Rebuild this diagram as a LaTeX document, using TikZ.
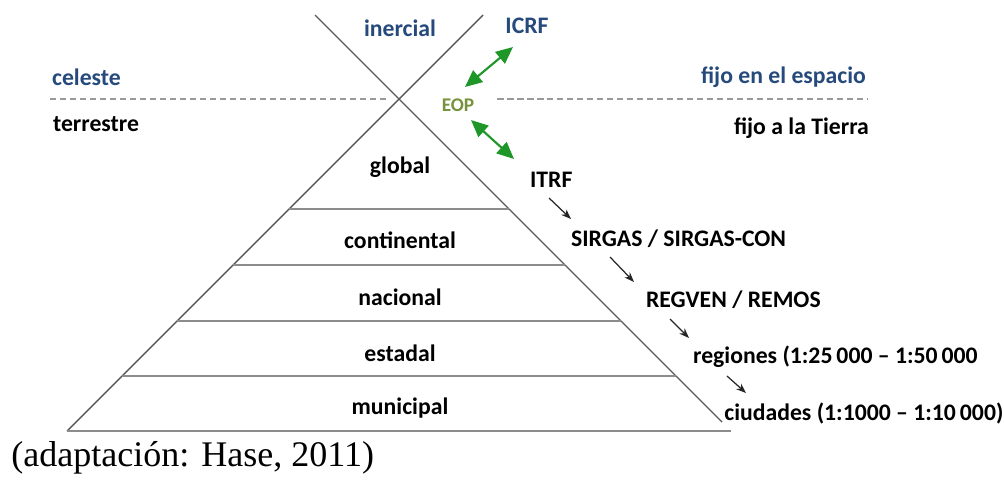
\documentclass[tikz,border=0pt]{standalone}
\usepackage{fontspec}
\setmainfont{Liberation Serif}
\newfontfamily\calfont{Carlito}
\usetikzlibrary{arrows.meta}
\definecolor{hblue}{RGB}{38,74,124}
\definecolor{hgreen}{RGB}{118,146,60}
\definecolor{agreen}{RGB}{30,150,40}
\begin{document}
\begin{tikzpicture}[x=0.02cm, y=-0.02cm,
    T/.style={font=\calfont\bfseries\fontsize{13.5}{16}\selectfont, inner sep=1pt},
    B/.style={T, text=hblue},
    diag/.style={draw=black!65, line width=0.8pt},
    level/.style={draw=black!45, line width=1.2pt},
    sep/.style={draw=black!40, line width=0.8pt, dash pattern=on 0.13cm off 0.07cm},
    garrow/.style={draw=agreen, line width=1.2pt, {Triangle[length=0.34cm,width=0.3cm]}-{Triangle[length=0.34cm,width=0.3cm]}},
    sarrow/.style={draw=black!85, line width=0.7pt, -{Stealth[length=0.2cm,width=0.15cm]}}
  ]
  \useasboundingbox (0,0) rectangle (1004,480);
  % cruz y piramide
  \draw[diag] (315,15) -- (722,422);
  \draw[diag] (483,15) -- (67,431);
  \foreach \y in {209,265,321,376}
    \draw[level] ({498-\y},\y) -- ({300+\y},\y);
  \draw[level] (67,431) -- (731,431);
  \draw[sep] (50,99) -- (386,99);
  \draw[sep] (497,99) -- (868,99);
  % textos
  \node[B] (inercial) at (400,28) {inercial};
  \node[B] (icrf) at (527,26) {ICRF};
  \node[B, anchor=west] (celeste) at (50,77) {celeste};
  \node[B, anchor=east] (espacio) at (868,77) {fijo en el espacio};
  \node[T, anchor=west] (terrestre) at (51,124) {terrestre};
  \node[T, anchor=east] (tierra) at (871,128) {fijo a la Tierra};
  \node[T, text=hgreen, font=\calfont\bfseries\fontsize{11}{13}\selectfont] (eop) at (458,105) {EOP};
  \node[T] (global) at (400,167) {global};
  \node[T] (continental) at (400,240) {continental};
  \node[T] (nacional) at (400,297) {nacional};
  \node[T] (estadal) at (400,353) {estadal};
  \node[T] (municipal) at (400,408) {municipal};
  \node[T, anchor=west] (itrf) at (528,180) {ITRF};
  \node[T, anchor=west] (sirgas) at (569,239) {SIRGAS / SIRGAS-CON};
  \node[T, anchor=west] (regven) at (644,300) {REGVEN / REMOS};
  \node[T, anchor=west] (regiones) at (691,357) {regiones (1:25\,000 – 1:50\,000};
  \node[T, anchor=west, inner sep=0pt] (ciudades) at (724,413) {ciudades (1:1000 – 1:10\,000)};
  \node[anchor=west, font=\fontsize{20.5}{24}\selectfont, inner sep=0pt] (fuente) at (11,458) {(adaptación: Hase, 2011)};
  % flechas
  \coordinate (g1a) at (465,87);  \coordinate (g1b) at (513,47);
  \coordinate (g2a) at (471,120); \coordinate (g2b) at (514,159);
  \draw[garrow] (g1a) -- (g1b);
  \draw[garrow] (g2a) -- (g2b);
  \coordinate (s1a) at (549,198); \coordinate (s1b) at (571,219);
  \coordinate (s2a) at (610,257); \coordinate (s2b) at (634,282);
  \coordinate (s3a) at (670,319); \coordinate (s3b) at (689,338);
  \coordinate (s4a) at (727,376); \coordinate (s4b) at (746,393);
  \draw[sarrow] (s1a) -- (s1b);
  \draw[sarrow] (s2a) -- (s2b);
  \draw[sarrow] (s3a) -- (s3b);
  \draw[sarrow] (s4a) -- (s4b);
\end{tikzpicture}
\end{document}
